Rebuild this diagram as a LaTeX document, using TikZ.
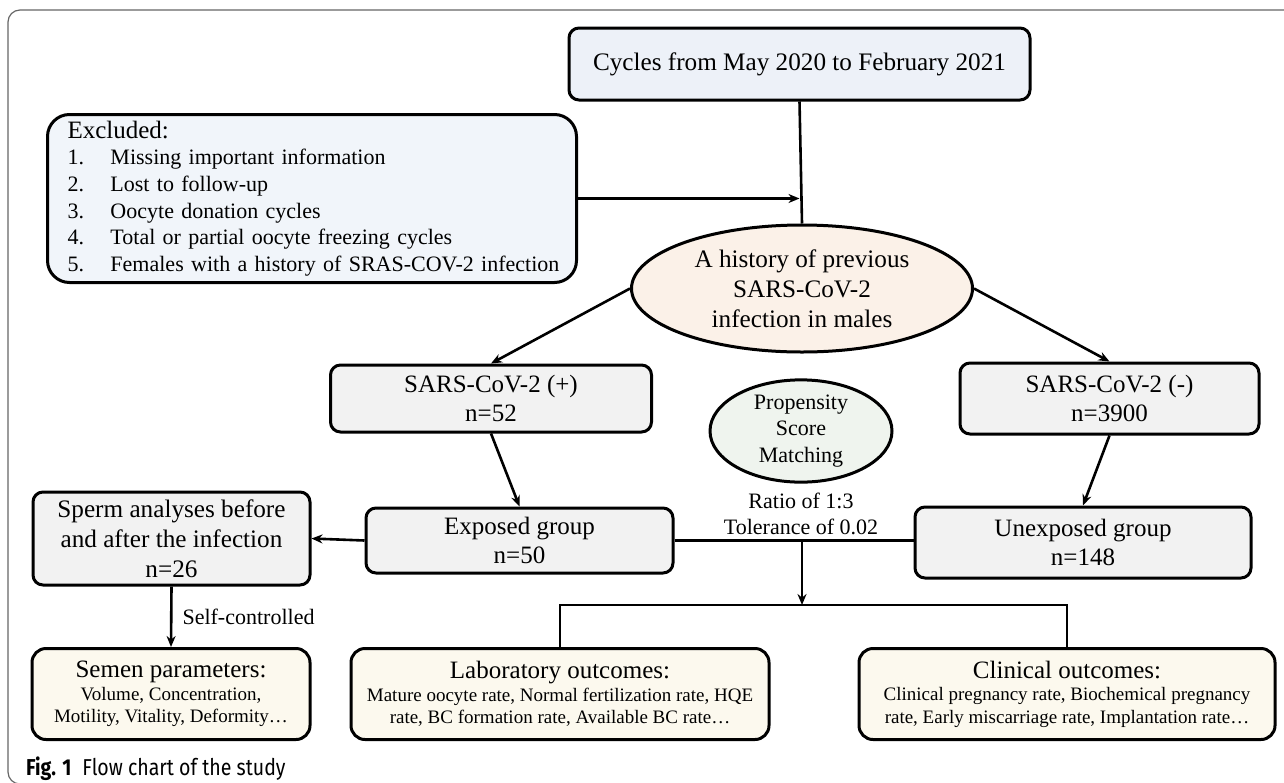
\documentclass[tikz,border=0pt]{standalone}
\usepackage{fontspec}
\setmainfont{Liberation Serif}
\newfontfamily\capfont{Fira Sans}[FakeStretch=0.85]
\usetikzlibrary{arrows.meta,shapes.geometric}
\newcommand\szBig{\fontsize{25.2}{30}\selectfont}
\newcommand\szMid{\fontsize{22}{26}\selectfont}
\newcommand\szBody{\fontsize{19}{22.5}\selectfont}
\newcommand\szTitle{\fontsize{25}{22.5}\selectfont}
\newcommand\itm[1]{\hspace*{10pt}\makebox[43pt][l]{#1}}
\definecolor{cycfill}{HTML}{EDF1F8}
\definecolor{excfill}{HTML}{F1F5FA}
\definecolor{histfill}{HTML}{FBF1E8}
\definecolor{grpfill}{HTML}{F2F2F2}
\definecolor{psmfill}{HTML}{EFF4EE}
\definecolor{outfill}{HTML}{FCF9EE}
\definecolor{framecol}{HTML}{666666}
\begin{document}
\begin{tikzpicture}[x=1pt,y=-1pt,
  boxbase/.style={draw=black, line width=3pt, rounded corners=10pt, inner sep=0pt, align=center},
  cycbox/.style={boxbase, fill=cycfill, font=\szBig},
  grpbox/.style={boxbase, fill=grpfill, font=\szBig},
  outbox/.style={boxbase, fill=outfill, rounded corners=14pt, font=\szBody},
  ellbox/.style={draw=black, line width=3pt, ellipse, inner sep=0pt, align=center},
  conn/.style={line width=2.6pt},
  arr/.style={line width=2.6pt, -{Stealth[length=11pt,width=9pt]}}
]
\useasboundingbox (0,0) rectangle (1284,782);
% outer frame
\draw[framecol, line width=1.2pt, rounded corners=12pt] (1300,784) -- (8,784) -- (8,10) -- (1300,10);

% nodes
\node[cycbox, minimum width=461, minimum height=72] (cyc) at (799.5,64) {Cycles from May 2020 to February 2021};

\node[boxbase, fill=excfill, rounded corners=22pt, anchor=north west, minimum width=529, minimum height=168,
      text width=509, inner xsep=10pt, inner ysep=3pt, align=left, font=\fontsize{22}{26.6}\selectfont] (excl) at (46,113)
  {\hspace*{10pt}{\fontsize{25}{26.6}\selectfont Excluded:}\\%
\itm{1.}Missing important information\\%
\itm{2.}Lost to follow-up\\%
\itm{3.}Oocyte donation cycles\\%
\itm{4.}Total or partial oocyte freezing cycles\\%
\itm{5.}Females with a history of SRAS-COV-2 infection};

\node[ellbox, fill=histfill, minimum width=341, minimum height=127, font=\szBig] (hist) at (802,288.5)
  {A history of previous\\SARS-CoV-2\\infection in males};

\node[grpbox, minimum width=321, minimum height=67, font=\fontsize{25}{29}\selectfont] (sp) at (491,398.5) {SARS-CoV-2 (+)\\n=52};
\node[grpbox, minimum width=299, minimum height=71, font=\fontsize{25}{29}\selectfont] (sm) at (1109.5,398.5) {SARS-CoV-2 (-)\\n=3900};

\node[ellbox, fill=psmfill, minimum width=182, minimum height=94, font=\fontsize{22}{26.5}\selectfont] (psm) at (801,431)
  {Propensity\\Score\\Matching};
\node[align=center, inner sep=0pt, font=\fontsize{22}{26}\selectfont] (ratio) at (801,514) {Ratio of 1:3\\Tolerance of 0.02};

\node[grpbox, minimum width=307, minimum height=65, font=\fontsize{25}{28.5}\selectfont] (ex) at (519.5,540.5) {Exposed group\\n=50};
\node[grpbox, minimum width=336, minimum height=71, font=\fontsize{25}{29}\selectfont] (unex) at (1083,542.5) {Unexposed group\\n=148};
\node[grpbox, minimum width=277, minimum height=93] (sperm) at (171.5,538.5) {Sperm analyses before\\and after the infection\\n=26};

\node[outbox, minimum width=278, minimum height=91] (semen) at (171,694)
  {{\szTitle Semen parameters:}\\Volume, Concentration,\\Motility, Vitality, Deformity\dots};
\node[outbox, minimum width=418, minimum height=91] (lab) at (560,694)
  {{\szTitle Laboratory outcomes:}\\Mature oocyte rate, Normal fertilization rate, HQE\\rate, BC formation rate, Available BC rate\dots};
\node[outbox, minimum width=416, minimum height=91] (clin) at (1067,694)
  {{\szTitle Clinical outcomes:}\\Clinical pregnancy rate, Biochemical pregnancy\\rate, Early miscarriage rate, Implantation rate\dots};

% connectors
\draw[conn] (cyc.south) -- (hist.north);
\draw[arr] (excl.east) -- (excl.east -| cyc.south);
\draw[arr] (hist.west) -- (sp.north);
\draw[arr] (hist.east) -- (sm.north);
\draw[arr] (sp.south) -- (ex.north);
\draw[arr] (sm.south) -- (unex.north);
\draw[arr] (ex.west) -- (sperm.east);
\draw[conn] (ex.east) -- (ex.east -| unex.west);
\coordinate (mid) at (802,540.5);
\coordinate (jn) at (802,605);
\draw[arr] (mid) -- (jn);
\draw[conn] (lab.north) |- (jn) -| (clin.north);
\draw[arr] (sperm.south) -- node[right=8pt, font=\szMid, inner sep=2pt] (selfc) {Self-controlled} (semen.north);

% caption
\node[anchor=base west, inner sep=0pt, font=\capfont\fontsize{23}{26}\selectfont] (cap) at (26,775)
  {\textbf{Fig. 1}\hspace{11pt}Flow chart of the study};
\end{tikzpicture}
\end{document}
